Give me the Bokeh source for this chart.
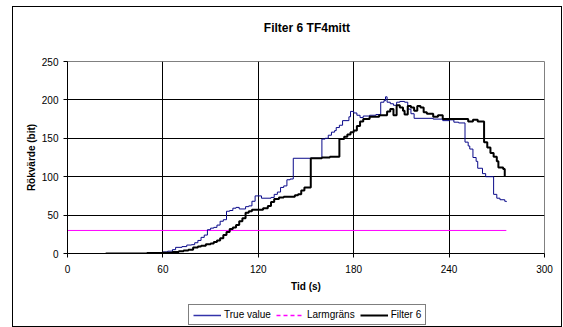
from bokeh.plotting import figure
from bokeh.layouts import column
from bokeh.models import Range1d, FixedTicker, Legend, LegendItem, Label
from bokeh.embed import file_html
from bokeh.resources import INLINE

# ---- data ----
true_t = [0, 54, 56, 60, 63, 66, 68, 72, 75, 78, 80, 82, 84, 86, 88, 90, 92, 94, 96, 98,
          100, 102, 104, 106, 108, 112, 114, 116, 118, 122, 128, 130, 132, 134, 136, 138, 140,
          142, 160, 162, 164, 166, 168, 169, 171, 173, 177, 178, 180, 182, 184, 186, 190, 194,
          197, 199, 200, 201, 203, 205, 207, 209, 212, 214, 216, 218, 230, 236, 240, 243, 246,
          250, 252, 253, 255, 257, 258, 261, 263, 268, 270, 272, 275, 276]
true_v = [0, 0, 1, 2, 3, 5, 8, 9, 11, 11.5, 14, 17, 21, 24, 31, 33, 34, 37, 42, 44,
          55, 56, 59, 60, 58, 61, 62, 68, 75, 72, 73, 77, 80, 86, 88, 96, 97,
          124, 149, 150, 154, 158, 160, 164, 167, 173, 178, 185, 183, 180, 177, 179, 180, 181,
          197, 199, 204, 197, 195, 193, 197, 198, 197, 188, 182, 176, 175, 173, 174, 171, 170,
          145, 140, 136, 125, 120, 111, 104, 100, 77, 72, 70, 68, 67]

filt_t = [24, 50, 60, 66, 70, 73, 76, 79, 82, 84, 87, 90, 92, 94, 96, 98, 100, 102, 104, 106,
          108, 110, 112, 114, 116, 123, 126, 128, 130, 133, 136, 143, 145, 147, 149, 153, 160,
          165, 171, 174, 176, 178, 180, 182, 184, 186, 190, 196, 201, 203, 205, 207, 209, 211,
          212, 214, 216, 218, 220, 222, 224, 226, 230, 233, 236, 252, 255, 258, 262, 264, 266,
          268, 270, 271, 274, 275]
filt_v = [0, 0.5, 1, 2, 3, 4, 5, 7.7, 9, 10, 12, 13, 15, 17, 20, 24, 28, 32, 34, 37,
          42, 46, 53, 55, 57, 59, 62, 67, 71, 73, 74, 76, 77, 82, 86, 124, 125,
          126, 149, 152, 155, 158, 160, 166, 172, 175, 178, 180, 185, 188, 180, 193, 190, 186,
          181, 192, 190, 186, 192, 190, 184, 182, 178, 180, 175, 172, 174, 172, 145, 138, 131,
          126, 120, 112, 110, 100]

larm_t = [0, 276]
larm_v = [30, 30]

x_ticks = [0, 60, 120, 180, 240, 300]
y_ticks = [0, 50, 100, 150, 200, 250]

TITLE = "Filter 6 TF4mitt"
FONT = "Liberation Sans"
W = 548
BLUE = "#0A0A8A"


def bare_fig(height, x_range, y_range):
    fig = figure(width=W, height=height, output_backend="svg", toolbar_location=None,
                 x_range=x_range, y_range=y_range, min_border=0,
                 x_axis_location=None, y_axis_location=None)
    fig.xgrid.visible = False
    fig.ygrid.visible = False
    fig.outline_line_color = None
    fig.background_fill_color = "white"
    fig.border_fill_color = "white"
    return fig


# ---- title strip ----
tf = bare_fig(34, Range1d(0, W), Range1d(0, 34))
tf.add_layout(Label(x=275, y=14, text=TITLE, text_align="center", text_baseline="middle",
                    text_font=FONT, text_font_size="12px", text_font_style="bold",
                    text_color="black"))

# ---- main chart ----
p = figure(width=W, height=259, output_backend="svg", toolbar_location=None,
           x_range=Range1d(0, 300), y_range=Range1d(0, 250),
           min_border_left=54, min_border_right=17, min_border_top=20, min_border_bottom=47)
p.background_fill_color = "white"
p.border_fill_color = "white"
p.outline_line_color = "#808080"
p.outline_line_width = 1

for ax in (p.xaxis[0], p.yaxis[0]):
    ax.axis_line_color = "black"
    ax.major_tick_line_color = "black"
    ax.major_tick_out = 4
    ax.major_tick_in = 0
    ax.minor_tick_line_color = None
    ax.major_label_text_font = FONT
    ax.major_label_text_font_size = "10px"
    ax.major_label_text_color = "black"
    ax.axis_label_text_font = FONT
    ax.axis_label_text_font_size = "10px"
    ax.axis_label_text_font_style = "bold"
    ax.axis_label_text_color = "black"

p.xaxis[0].ticker = FixedTicker(ticks=x_ticks)
p.yaxis[0].ticker = FixedTicker(ticks=y_ticks)
p.xaxis[0].axis_label = "Tid (s)"
p.yaxis[0].axis_label = "Rökvärde (bit)"
p.xaxis[0].major_label_standoff = 7
p.xaxis[0].axis_label_standoff = 5
p.yaxis[0].major_label_standoff = 5
p.yaxis[0].axis_label_standoff = 2

p.xgrid.ticker = FixedTicker(ticks=x_ticks)
p.ygrid.ticker = FixedTicker(ticks=y_ticks)
for g in (p.xgrid[0], p.ygrid[0]):
    g.grid_line_color = "black"
    g.grid_line_width = 1

p.line(larm_t, larm_v, line_color="#FF00FF", line_width=1)
p.step(true_t, true_v, mode="after", line_color=BLUE, line_width=1)
p.step(filt_t, filt_v, mode="after", line_color="black", line_width=2)

# ---- legend strip ----
lf = bare_fig(26, Range1d(0, 300), Range1d(1000, 1010))
l_true = lf.line(true_t, true_v, line_color="#3333AA", line_width=1.5)
l_larm = lf.line(larm_t, larm_v, line_color="#FF00FF", line_width=1.5, line_dash="4 3")
l_filt = lf.line(filt_t, filt_v, line_color="black", line_width=2)

legend = Legend(items=[LegendItem(label="True value", renderers=[l_true]),
                       LegendItem(label="Larmgräns", renderers=[l_larm]),
                       LegendItem(label="Filter 6", renderers=[l_filt])],
                orientation="horizontal", location=(121, 1))
legend.label_text_font = FONT
legend.label_text_font_size = "10px"
legend.label_text_color = "black"
legend.glyph_width = 28
legend.glyph_height = 10
legend.label_standoff = 3
legend.spacing = 5
legend.padding = 4
legend.margin = 0
legend.border_line_color = "black"
legend.border_line_width = 1
legend.background_fill_color = "white"
legend.label_height = 10
lf.add_layout(legend, "center")

layout = column(tf, p, lf, spacing=0,
                styles={"border": "1px solid black", "margin-left": "12px", "margin-top": "6px"})

open("out.html", "w").write(file_html(layout, INLINE))
